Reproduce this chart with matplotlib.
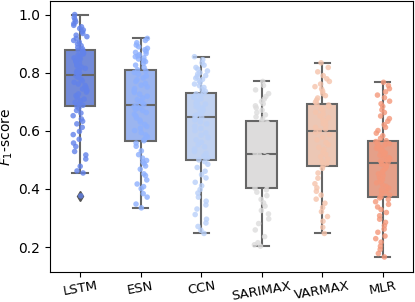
import numpy as np
import pandas as pd
import matplotlib
matplotlib.use("Agg")
import matplotlib.pyplot as plt
import seaborn as sns

models = ["LSTM", "ESN", "CCN", "SARIMAX", "VARMAX", "MLR"]

lstm = [0.376, 0.455, 0.462, 0.478, 0.503, 0.517, 0.529, 0.546, 0.558, 0.571,
        0.587, 0.598, 0.612, 0.624, 0.633, 0.641, 0.652, 0.661, 0.670, 0.678,
        0.685,
        0.688, 0.692, 0.698, 0.703, 0.709, 0.714, 0.721, 0.727, 0.733, 0.739,
        0.744, 0.750, 0.756, 0.761, 0.767, 0.772, 0.778, 0.784, 0.789,
        0.793,
        0.797, 0.801, 0.806, 0.811, 0.815, 0.820, 0.824, 0.829, 0.834, 0.838,
        0.842, 0.847, 0.851, 0.855, 0.860, 0.864, 0.868, 0.872, 0.875,
        0.878,
        0.882, 0.887, 0.893, 0.899, 0.905, 0.911, 0.918, 0.924, 0.929, 0.935,
        0.941, 0.947, 0.952, 0.958, 0.963, 0.969, 0.975, 0.982, 0.990, 1.000]

esn = [0.335, 0.348, 0.372, 0.384, 0.401, 0.408, 0.417, 0.431, 0.446, 0.452,
       0.468, 0.479, 0.487, 0.493, 0.498, 0.506, 0.518, 0.531, 0.547, 0.558,
       0.566,
       0.571, 0.579, 0.586, 0.594, 0.601, 0.609, 0.615, 0.622, 0.630, 0.637,
       0.644, 0.651, 0.657, 0.663, 0.670, 0.674, 0.679, 0.683, 0.687,
       0.690,
       0.695, 0.701, 0.707, 0.713, 0.719, 0.726, 0.732, 0.738, 0.745, 0.751,
       0.757, 0.763, 0.770, 0.776, 0.782, 0.789, 0.795, 0.801, 0.806,
       0.810,
       0.818, 0.826, 0.833, 0.838, 0.842, 0.847, 0.851, 0.855, 0.858, 0.862,
       0.866, 0.870, 0.874, 0.879, 0.884, 0.889, 0.895, 0.903, 0.911, 0.918]

ccn = [0.247, 0.258, 0.271, 0.283, 0.296, 0.312, 0.331, 0.345, 0.358, 0.372,
       0.386, 0.398, 0.411, 0.423, 0.438, 0.449, 0.461, 0.474, 0.485, 0.494,
       0.500,
       0.507, 0.514, 0.522, 0.529, 0.537, 0.545, 0.553, 0.561, 0.569, 0.577,
       0.585, 0.593, 0.601, 0.608, 0.616, 0.624, 0.631, 0.637, 0.642,
       0.647,
       0.651, 0.655, 0.659, 0.663, 0.667, 0.671, 0.675, 0.679, 0.684, 0.688,
       0.692, 0.696, 0.701, 0.705, 0.710, 0.715, 0.719, 0.723, 0.727,
       0.730,
       0.736, 0.742, 0.749, 0.755, 0.761, 0.767, 0.772, 0.777, 0.781, 0.786,
       0.790, 0.795, 0.800, 0.806, 0.812, 0.818, 0.826, 0.834, 0.845, 0.855]

sarimax = [0.203, 0.208, 0.215, 0.236, 0.259, 0.281, 0.297, 0.314, 0.326, 0.341,
           0.352, 0.364, 0.377, 0.389, 0.397,
           0.403,
           0.411, 0.419, 0.428, 0.436, 0.444, 0.452, 0.461, 0.469, 0.478, 0.486,
           0.494, 0.503, 0.511, 0.517,
           0.522,
           0.530, 0.538, 0.546, 0.554, 0.562, 0.570, 0.578, 0.586, 0.594, 0.602,
           0.610, 0.618, 0.624, 0.629,
           0.634,
           0.641, 0.648, 0.655, 0.663, 0.671, 0.679, 0.686, 0.693, 0.701, 0.709,
           0.718, 0.728, 0.741, 0.756, 0.770]

varmax = [0.247, 0.268, 0.289, 0.305, 0.322, 0.336, 0.351, 0.365, 0.379, 0.392,
          0.404, 0.418, 0.437, 0.455, 0.471,
          0.480,
          0.487, 0.495, 0.503, 0.511, 0.519, 0.527, 0.535, 0.543, 0.552, 0.560,
          0.569, 0.578, 0.587, 0.595,
          0.600,
          0.606, 0.612, 0.619, 0.625, 0.632, 0.638, 0.645, 0.651, 0.658, 0.664,
          0.671, 0.677, 0.684, 0.689,
          0.692,
          0.699, 0.706, 0.713, 0.721, 0.728, 0.736, 0.744, 0.752, 0.761, 0.770,
          0.779, 0.790, 0.803, 0.818, 0.834]

mlr = [0.166, 0.178, 0.192, 0.203, 0.217, 0.229, 0.238, 0.251, 0.262, 0.274,
       0.285, 0.296, 0.308, 0.319, 0.329, 0.338, 0.347, 0.356, 0.364, 0.369,
       0.373,
       0.379, 0.385, 0.391, 0.397, 0.403, 0.409, 0.415, 0.421, 0.427, 0.433,
       0.439, 0.446, 0.452, 0.458, 0.464, 0.470, 0.476, 0.481, 0.485,
       0.488,
       0.492, 0.496, 0.500, 0.504, 0.508, 0.512, 0.516, 0.520, 0.524, 0.528,
       0.532, 0.536, 0.540, 0.544, 0.548, 0.552, 0.556, 0.560, 0.563,
       0.566,
       0.574, 0.583, 0.592, 0.601, 0.612, 0.621, 0.633, 0.642, 0.651, 0.663,
       0.672, 0.684, 0.693, 0.702, 0.714, 0.723, 0.734, 0.745, 0.756, 0.767]

scores = [lstm, esn, ccn, sarimax, varmax, mlr]

df = pd.DataFrame({
    "model": [m for m, s in zip(models, scores) for _ in s],
    "score": [v for s in scores for v in s],
})

np.random.seed(3)
# 7-step coolwarm, the last (red) step unused
palette = sns.color_palette("coolwarm", 7)[:6]

fig, ax = plt.subplots(figsize=(4.15, 3.02), dpi=100)
sns.boxplot(data=df, x="model", y="score", hue="model", order=models,
            hue_order=models, palette=palette, width=0.5, legend=False,
            linewidth=1.5, linecolor="#666666",
            flierprops=dict(marker="d", markerfacecolor="#555555",
                            markeredgecolor="#555555", markersize=5), ax=ax)
sns.stripplot(data=df, x="model", y="score", hue="model", order=models,
              hue_order=models, palette=palette, jitter=0.12, size=4,
              alpha=0.8, legend=False, ax=ax)

ax.set_xlim(-0.5, 5.5)
ax.set_ylim(0.115, 1.047)
ax.set_yticks([0.2, 0.4, 0.6, 0.8, 1.0])
ax.set_xlabel("")
ax.set_ylabel("$F_1$-score", fontsize=10, labelpad=2)
ax.tick_params(labelsize=10, length=3.5)
ax.tick_params(axis="x", pad=2, labelsize=9.5)
plt.setp(ax.get_xticklabels(), rotation=10)

fig.subplots_adjust(left=0.12, right=0.995, top=0.997, bottom=0.1)
fig.savefig("out.png", dpi=100)
